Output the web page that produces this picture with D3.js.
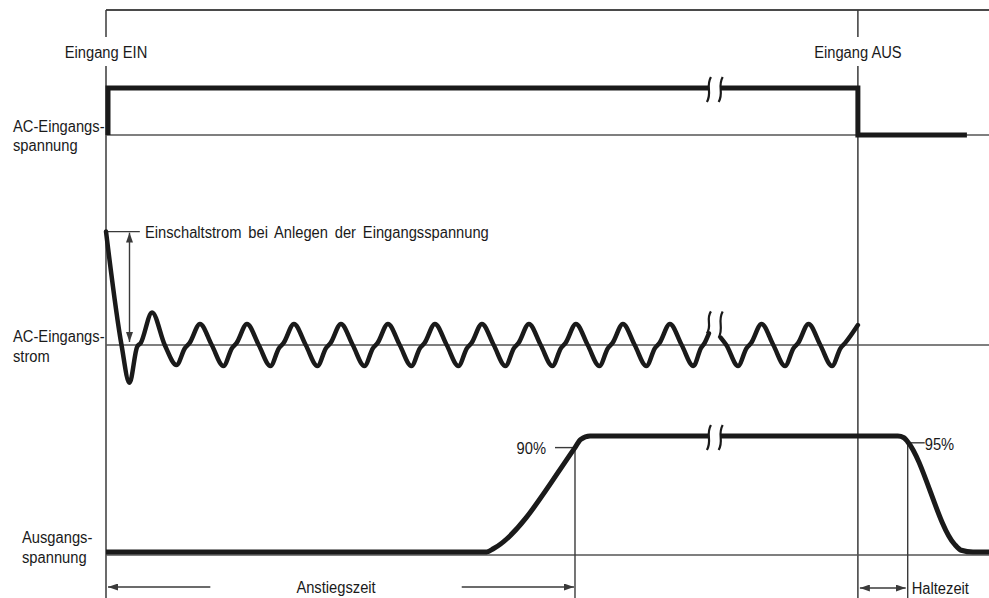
<!DOCTYPE html>
<html><head><meta charset="utf-8">
<script src="https://cdn.jsdelivr.net/npm/d3@7"></script>
<style>
body{margin:0;background:#fff}
svg{display:block}
text{font-family:"Liberation Sans",Arial,sans-serif;font-size:16px;fill:#1a1a1a}
</style>
</head><body>
<svg id="c" width="989" height="598"></svg>
<script>
// Time axis in AC cycles (0 = Eingang EIN)
const inputOnT = 0;
const inputOffT = 16;
const timeEnd = 18.79;
const breakT = [12.83, 13.08];

// AC input voltage (0 = off, 1 = on)
const voltageT = [0, 0, 16, 16, 18.32];
const voltageV = [0, 1, 1, 0, 0];

// AC input current (regular amplitude = 1), before the break
const currentT1 = [0, 0.33, 0.5, 0.66, 0.74, 0.98, 1.25, 1.5, 1.68, 1.78, 2, 2.25, 2.5, 2.68, 2.78,
  3, 3.25, 3.5, 3.68, 3.78, 4, 4.25, 4.5, 4.68, 4.78, 5, 5.25, 5.5, 5.68, 5.78,
  6, 6.25, 6.5, 6.68, 6.78, 7, 7.25, 7.5, 7.68, 7.78, 8, 8.25, 8.5, 8.68, 8.78,
  9, 9.25, 9.5, 9.68, 9.78, 10, 10.25, 10.5, 10.68, 10.78, 11, 11.25, 11.5, 11.68, 11.78,
  12, 12.25, 12.5, 12.66, 12.74, 12.83];
const currentI1 = [5.4, 0, -1.8, -0.1, 0.1, 1.55, 0, -0.95, -0.15, 0.1, 1, 0, -1, -0.15, 0.1,
  1, 0, -1, -0.15, 0.1, 1, 0, -1, -0.15, 0.1, 1, 0, -1, -0.15, 0.1,
  1, 0, -1, -0.15, 0.1, 1, 0, -1, -0.15, 0.1, 1, 0, -1, -0.15, 0.1,
  1, 0, -1, -0.15, 0.1, 1, 0, -1, -0.15, 0.1, 1, 0, -1, -0.15, 0.1,
  1, 0, -1, -0.15, 0.1, 0.55];
// AC input current, after the break
const currentT2 = [13.08, 13.2, 13.45, 13.63, 13.73, 13.95, 14.2, 14.45, 14.63, 14.73, 14.95, 15.2, 15.45, 15.63, 15.73, 16];
const currentI2 = [0.35, 0, -1, -0.15, 0.1, 1, 0, -1, -0.15, 0.1, 1, 0, -1, -0.15, 0.1, 0.95];

// Output voltage (1 = nominal)
const outputT = [0, 8.1, 8.25, 9.98, 10.1, 10.3, 16.85, 16.98, 17.06, 18.05, 18.2, 18.45, 18.79];
const outputV = [0, 0, 0.03, 0.9, 0.97, 1, 1, 0.985, 0.95, 0.07, 0.015, 0, 0];

const riseMark = [9.98, 0.9];   // 90 %
const holdMark = [17.06, 0.95]; // 95 %

const labelOn = "Eingang EIN", labelOff = "Eingang AUS";
const labelV = ["AC-Eingangs-", "spannung"];
const labelI = ["AC-Eingangs-", "strom"];
const labelO = ["Ausgangs-", "spannung"];
const labelInrush = "Einschaltstrom bei Anlegen der Eingangsspannung";
const labelP90 = "90%", labelP95 = "95%", labelRise = "Anstiegszeit", labelHold = "Haltezeit";

const W = 989, H = 598;
const svg = d3.select("#c");
const x = d3.scaleLinear().domain([0, timeEnd]).range([106, 989]);
const yV = d3.scaleLinear().domain([0, 1]).range([135, 88]);
const yI = d3.scaleLinear().domain([0, 1]).range([345, 324]);
const yO = d3.scaleLinear().domain([0, 1]).range([552, 436]);

const thin = "#3a3a3a", thick = "#1a1a1a";

const defs = svg.append("defs");
defs.append("marker").attr("id", "ah").attr("viewBox", "0 0 10 7")
  .attr("refX", 10).attr("refY", 3.5).attr("markerWidth", 10).attr("markerHeight", 7)
  .attr("markerUnits", "userSpaceOnUse").attr("orient", "auto-start-reverse")
  .append("path").attr("d", "M0,0 L10,3.5 L0,7 Z").attr("fill", thin);

function zip(ts, vs) { return ts.map((t, i) => [t, vs[i]]); }
function interp(pts, t) {
  for (let i = 1; i < pts.length; i++) {
    const a = pts[i - 1], b = pts[i];
    if (t >= a[0] && t <= b[0] && b[0] > a[0]) return a[1] + (b[1] - a[1]) * (t - a[0]) / (b[0] - a[0]);
  }
  return pts[pts.length - 1][1];
}
function splitAt(pts, t0, t1) {
  const A = pts.filter(p => p[0] < t0); A.push([t0, interp(pts, t0)]);
  const B = [[t1, interp(pts, t1)]].concat(pts.filter(p => p[0] > t1));
  return [A, B];
}

// thin frame lines
const g = svg.append("g");
g.append("line").attr("x1", x(0)).attr("x2", W).attr("y1", 10).attr("y2", 10)
  .attr("stroke", "#4a4a4a").attr("stroke-width", 2);
[inputOnT, inputOffT].forEach(t => {
  g.append("line").attr("x1", x(t)).attr("x2", x(t)).attr("y1", 10).attr("y2", 37).attr("stroke", thin).attr("stroke-width", 1.5);
  g.append("line").attr("x1", x(t)).attr("x2", x(t)).attr("y1", 66).attr("y2", H).attr("stroke", thin).attr("stroke-width", 1.5);
});
[yV(0), yI(0), yO(0) + 3].forEach(yy => {
  g.append("line").attr("x1", x(0)).attr("x2", W).attr("y1", yy).attr("y2", yy)
    .attr("stroke", "#555").attr("stroke-width", 1.5);
});
// marker verticals
g.append("line").attr("x1", x(riseMark[0])).attr("x2", x(riseMark[0])).attr("y1", yO(riseMark[1])).attr("y2", H)
  .attr("stroke", thin).attr("stroke-width", 1.4);
g.append("line").attr("x1", x(holdMark[0])).attr("x2", x(holdMark[0])).attr("y1", yO(holdMark[1])).attr("y2", H)
  .attr("stroke", thin).attr("stroke-width", 1.4);
// percent ticks
g.append("line").attr("x1", x(riseMark[0]) - 20).attr("x2", x(riseMark[0]) - 2).attr("y1", yO(riseMark[1])).attr("y2", yO(riseMark[1]))
  .attr("stroke", thin).attr("stroke-width", 1.4);
g.append("line").attr("x1", x(holdMark[0]) + 2).attr("x2", x(holdMark[0]) + 17).attr("y1", yO(holdMark[1]) + 1).attr("y2", yO(holdMark[1]) + 1)
  .attr("stroke", thin).attr("stroke-width", 1.4);

// squiggle break marks
function squiggle(cx, top, bot) {
  const h = bot - top;
  return `M${cx + 2},${top} C${cx - 3.5},${top + h * 0.4} ${cx + 3.5},${bot - h * 0.4} ${cx - 2},${bot}`;
}

// voltage
const vPts = zip(voltageT, voltageV);
const lineV = d3.line().x(d => x(d[0]) + (d[0] === inputOnT ? 2 : 0)).y(d => yV(d[1]));
splitAt(vPts, breakT[0], breakT[1]).forEach(seg => {
  svg.append("path").attr("d", lineV(seg)).attr("fill", "none").attr("stroke", thick)
    .attr("stroke-width", 5).attr("stroke-linejoin", "miter");
});
breakT.forEach(t => svg.append("path").attr("d", squiggle(x(t), yV(1) - 11, yV(1) + 14))
  .attr("fill", "none").attr("stroke", thick).attr("stroke-width", 2.2));

// current
const lineI = d3.line().x(d => x(d[0])).y(d => yI(d[1])).curve(d3.curveMonotoneX);
const i1 = zip(currentT1, currentI1), i2 = zip(currentT2, currentI2);
[i1, i2].forEach(seg => svg.append("path").attr("d", lineI(seg)).attr("fill", "none")
  .attr("stroke", thick).attr("stroke-width", 4.5).attr("stroke-linejoin", "round").attr("stroke-linecap", "round"));
svg.append("path").attr("d", squiggle(x(breakT[0]), yI(1.6), yI(i1[i1.length - 1][1])))
  .attr("fill", "none").attr("stroke", thick).attr("stroke-width", 2.2);
svg.append("path").attr("d", squiggle(x(breakT[1]), yI(1.6), yI(i2[0][1])))
  .attr("fill", "none").attr("stroke", thick).attr("stroke-width", 2.2);

// inrush annotation
const inrushPeak = currentI1[0];
g.append("line").attr("x1", x(0)).attr("x2", x(0.72)).attr("y1", yI(inrushPeak)).attr("y2", yI(inrushPeak))
  .attr("stroke", thin).attr("stroke-width", 1.4);
g.append("line").attr("x1", x(0.5)).attr("x2", x(0.5)).attr("y1", yI(inrushPeak) + 1).attr("y2", yI(0) - 3)
  .attr("stroke", thin).attr("stroke-width", 1.4)
  .attr("marker-start", "url(#ah)").attr("marker-end", "url(#ah)");

// output voltage
const oPts = zip(outputT, outputV);
const lineO = d3.line().x(d => x(d[0])).y(d => yO(d[1])).curve(d3.curveMonotoneX);
splitAt(oPts, breakT[0], breakT[1]).forEach(seg => {
  svg.append("path").attr("d", lineO(seg)).attr("fill", "none").attr("stroke", thick)
    .attr("stroke-width", 5).attr("stroke-linejoin", "round");
});
breakT.forEach(t => svg.append("path").attr("d", squiggle(x(t), yO(1) - 11, yO(1) + 14))
  .attr("fill", "none").attr("stroke", thick).attr("stroke-width", 2.2));

// time span arrows
const yArr = 587;
g.append("line").attr("x1", x(2.22)).attr("x2", x(0) + 2).attr("y1", yArr).attr("y2", yArr)
  .attr("stroke", thin).attr("stroke-width", 1.4).attr("marker-end", "url(#ah)");
g.append("line").attr("x1", x(7.57)).attr("x2", x(riseMark[0]) - 1).attr("y1", yArr).attr("y2", yArr)
  .attr("stroke", thin).attr("stroke-width", 1.4).attr("marker-end", "url(#ah)");
g.append("line").attr("x1", x(inputOffT) + 2).attr("x2", x(holdMark[0]) - 2).attr("y1", yArr + 1).attr("y2", yArr + 1)
  .attr("stroke", thin).attr("stroke-width", 1.4).attr("marker-start", "url(#ah)").attr("marker-end", "url(#ah)");

// texts (horizontally condensed to mimic the condensed typeface)
const SX = 0.92;
function txt(s, tx, ty, anchor, ws) {
  svg.append("text").attr("transform", `translate(${tx},${ty}) scale(${SX},1)`)
    .attr("text-anchor", anchor || "start").attr("word-spacing", ws || 0).text(s);
}
txt(labelOn, x(inputOnT), 58, "middle");
txt(labelOff, x(inputOffT), 58, "middle");
txt(labelV[0], 13, 132); txt(labelV[1], 13, 151);
txt(labelI[0], 13, 342); txt(labelI[1], 13, 362);
txt(labelO[0], 22, 543); txt(labelO[1], 22, 563);
txt(labelInrush, 145, 238, "start", 3);
txt(labelP90, x(riseMark[0]) - 29, yO(riseMark[1]) + 6, "end");
txt(labelP95, x(holdMark[0]) + 17, yO(holdMark[1]) + 8);
txt(labelRise, (x(2.22) + x(7.57)) / 2, 593, "middle");
txt(labelHold, x(holdMark[0]) + 4, 594);
</script>
</body></html>
